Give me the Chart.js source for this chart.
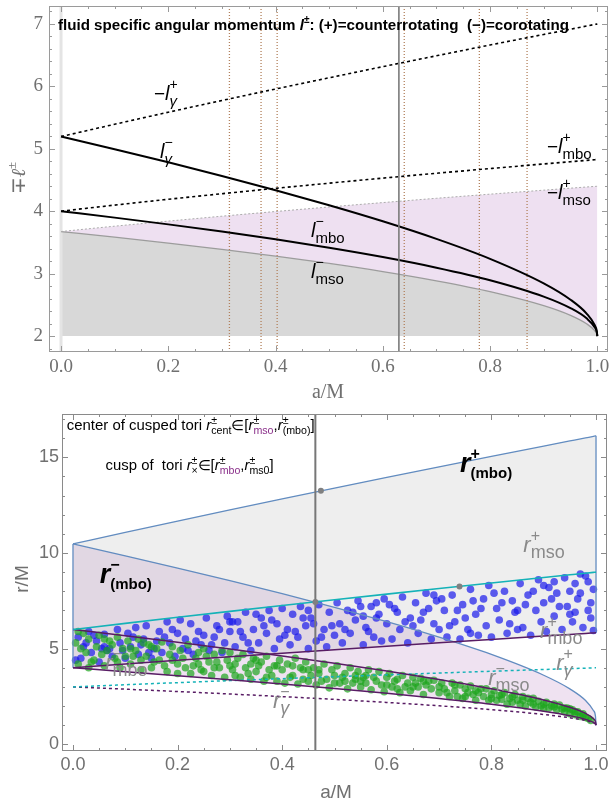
<!DOCTYPE html>
<html><head><meta charset="utf-8"><title>Kerr tori</title>
<script src="https://cdn.jsdelivr.net/npm/chart.js@4.4.1/dist/chart.umd.min.js"></script>
<style>
html,body{margin:0;padding:0;background:#fff;width:611px;height:800px;overflow:hidden}
canvas{position:absolute;left:0;display:block}
</style></head>
<body>
<canvas id="top" width="611" height="400" style="top:0;width:611px;height:400px"></canvas>
<canvas id="bot" width="611" height="400" style="top:400px;width:611px;height:400px"></canvas>
<script>
// ---------- data ----------
const aGrid = [0,0.1,0.2,0.3,0.4,0.5,0.6,0.7,0.8,0.9,0.95,0.98,0.995,0.999,1];
// top panel: fluid specific angular momentum
const lGammaCo      = [5.196,4.993,4.783,4.565,4.337,4.096,3.839,3.557,3.237,2.844,2.582,2.360,2.177,2.079,2.000];
const lGammaCounter = [5.196,5.393,5.586,5.774,5.958,6.138,6.316,6.490,6.663,6.832,6.916,6.967,6.992,6.998,7.000];
const lMboCo        = [4.000,3.897,3.789,3.673,3.549,3.414,3.265,3.095,2.894,2.632,2.447,2.283,2.141,2.063,2.000];
const lMboCounter   = [4.000,4.098,4.191,4.280,4.366,4.449,4.530,4.608,4.683,4.757,4.793,4.814,4.825,4.828,4.828];
const lMsoCo        = [3.674,3.585,3.490,3.389,3.280,3.163,3.033,2.885,2.712,2.487,2.331,2.196,2.087,2.033,2.000];
const lMsoCounter   = [3.674,3.760,3.841,3.920,3.995,4.068,4.138,4.207,4.273,4.337,4.369,4.388,4.397,4.399,4.400];
const specialSpins  = [0.314,0.373,0.403,0.640,0.780,0.869];
const markedSpinTop = [0.63];
const topXTicks = [0,0.2,0.4,0.6,0.8,1.0];
const topYTicks = [2,3,4,5,6,7];
// bottom panel: radii
const rMboCo        = [4.000,3.797,3.589,3.373,3.149,2.914,2.665,2.395,2.094,1.732,1.497,1.303,1.146,1.064,1.000];
const rMboCounter   = [4.000,4.198,4.391,4.580,4.766,4.949,5.130,5.308,5.483,5.657,5.743,5.794,5.820,5.827,5.828];
const rMsoCo        = [6.000,5.670,5.329,4.979,4.614,4.233,3.829,3.393,2.907,2.321,1.937,1.614,1.341,1.182,1.000];
const rMsoCounter   = [6.000,6.323,6.639,6.949,7.254,7.555,7.851,8.143,8.432,8.717,8.859,8.944,8.986,8.997,9.000];
const rGammaCo      = [3.000,2.882,2.759,2.630,2.493,2.347,2.189,2.013,1.811,1.558,1.386,1.240,1.118,1.053,1.000];
const rGammaCounter = [3.000,3.113,3.223,3.329,3.432,3.532,3.630,3.725,3.819,3.910,3.955,3.982,3.996,3.999,4.000];
const rOuterCo      = [10.472,9.851,9.215,8.559,7.876,7.164,6.412,5.601,4.696,3.610,2.897,2.290,1.770,1.455,1.000];
const rOuterCounter = [10.472,11.079,11.672,12.256,12.830,13.396,13.955,14.506,15.051,15.590,15.857,16.017,16.096,16.118,16.123];
const markedSpinBot = [0.4634];
const markA = [0.474,0.4634,0.739];
const markR = [13.25,7.44,8.25];
const botXTicks = [0,0.2,0.4,0.6,0.8,1.0];
const botYTicks = [0,5,10,15];
const bluePts = [
[0.01,5.6],[0.015,4.5],[0.02,5.1],[0.025,5.3],[0.03,5.9],[0.035,4.8],[0.045,5.4],[0.05,4.3],[0.06,5.75],[0.065,4.9],[0.07,5.0],[0.075,4.6],[0.085,6.0],[0.09,5.3],[0.1,4.5],[0.105,5.8],
[0.11,5.1],[0.115,5.6],[0.12,6.1],[0.125,4.7],[0.135,5.5],[0.14,6.2],[0.15,4.5],[0.155,5.0],[0.16,5.4],[0.165,5.9],[0.17,4.8],[0.18,6.4],[0.185,5.3],[0.195,4.6],[0.2,5.8],[0.205,6.5],
[0.21,5.0],[0.215,5.5],[0.225,6.3],[0.23,4.7],[0.235,5.4],[0.24,5.9],[0.245,5.2],[0.255,6.6],[0.26,4.9],[0.27,5.6],[0.275,6.2],[0.28,6.0],[0.285,4.8],[0.29,5.3],[0.295,6.7],[0.3,5.9],
[0.31,5.1],[0.315,6.4],[0.32,5.9],[0.325,5.6],[0.33,6.9],[0.34,4.9],[0.345,6.0],[0.355,5.3],[0.36,6.6],[0.365,6.2],[0.37,5.8],[0.375,7.0],[0.385,5.0],[0.39,6.3],[0.395,5.5],[0.4,7.1],
[0.405,5.7],[0.41,6.0],[0.415,5.2],[0.42,6.8],[0.43,5.6],[0.435,7.2],[0.445,6.2],[0.45,5.0],[0.455,6.6],[0.46,6.3],[0.465,5.4],[0.47,7.3],[0.48,6.0],[0.485,5.1],[0.49,6.9],[0.495,6.2],[0.5,5.7],[0.505,7.4],
[0.51,6.3],[0.515,5.3],[0.525,7.0],[0.53,5.8],[0.535,6.9],[0.54,6.5],[0.545,7.5],[0.555,5.2],[0.555,6.7],[0.56,6.1],[0.57,7.2],[0.575,5.6],[0.58,6.6],[0.585,6.8],[0.59,5.4],[0.595,7.6],[0.6,6.3],
[0.61,5.5],[0.615,7.1],[0.62,6.9],[0.625,6.0],[0.63,7.7],[0.64,5.3],[0.645,6.6],[0.65,6.2],[0.655,7.4],[0.66,5.8],[0.665,6.5],[0.67,6.9],[0.675,7.9],[0.685,5.5],[0.69,6.3],[0.695,7.5],[0.7,6.0],
[0.705,7.6],[0.71,7.0],[0.715,5.6],[0.725,7.8],[0.73,6.4],[0.735,7.0],[0.74,5.5],[0.745,7.3],[0.75,6.6],[0.755,6.0],[0.76,8.1],[0.765,7.5],[0.77,6.8],[0.775,5.7],[0.785,7.6],[0.79,6.2],[0.795,8.3],[0.8,5.6],
[0.805,7.9],[0.81,7.1],[0.815,6.5],[0.825,8.0],[0.83,5.8],[0.835,6.3],[0.84,7.5],[0.845,6.9],[0.85,7.0],[0.855,8.4],[0.86,6.1],[0.865,7.3],[0.87,7.8],[0.875,5.7],[0.88,8.0],[0.885,7.0],[0.89,8.6],[0.895,6.4],[0.9,7.4],
[0.905,5.9],[0.91,8.2],[0.915,7.6],[0.92,6.7],[0.925,7.9],[0.93,7.2],[0.935,6.0],[0.94,8.7],[0.945,7.2],[0.95,8.0],[0.955,6.4],[0.96,8.4],[0.96,6.9],[0.965,7.6],[0.97,8.9],[0.975,6.1],[0.98,8.8],[0.985,7.0],[0.99,6.6],[0.99,7.4],[0.995,8.1],
[0.005,4.4],[0.04,5.7],[0.055,5.0],[0.095,4.9],[0.13,5.2],[0.145,4.8],[0.175,5.6],[0.19,6.0],[0.22,4.9],[0.25,5.7],[0.265,5.2],[0.305,6.4],[0.335,5.3],[0.35,6.8],[0.38,6.5],[0.425,5.9],[0.44,6.6],[0.475,5.6],[0.52,6.0],[0.55,7.2],
[0.565,5.9],[0.605,7.3],[0.635,6.4],[0.68,7.1],[0.72,6.2],[0.78,7.1],[0.82,7.4],[0.85,6.0],[0.9,8.3],[0.92,8.5],[0.95,6.8],[0.97,7.9],[0.985,8.5],[0.995,5.95],[0.69,7.8],[0.58,7.4],[0.45,7.0],[0.3,6.4],[0.06,5.1],[0.76,5.8]
];
const greenPts = [
[0.005,5.3],[0.01,4.2],[0.015,5.0],[0.02,5.8],[0.025,4.8],[0.03,5.5],[0.04,4.4],[0.045,5.1],[0.05,5.7],[0.055,4.7],[0.06,4.1],[0.065,4.9],[0.07,5.4],[0.075,5.2],[0.08,4.5],[0.085,5.6],[0.09,4.0],[0.095,5.0],[0.1,4.6],
[0.105,5.4],[0.11,4.2],[0.115,4.6],[0.12,4.9],[0.125,5.5],[0.13,3.9],[0.135,5.3],[0.14,4.6],[0.145,5.2],[0.15,4.0],[0.16,5.0],[0.165,4.4],[0.17,5.35],[0.175,4.1],[0.18,3.8],[0.185,4.7],[0.19,5.1],[0.2,4.2],[0.2,3.7],
[0.205,4.9],[0.21,4.5],[0.215,4.0],[0.22,5.2],[0.225,3.7],[0.23,4.1],[0.24,4.8],[0.245,3.9],[0.25,5.0],[0.255,4.6],[0.26,4.3],[0.265,3.6],[0.27,4.7],[0.275,4.3],[0.28,4.0],[0.285,4.9],[0.29,3.5],[0.295,4.4],[0.3,4.8],
[0.305,3.9],[0.31,4.2],[0.315,4.5],[0.32,3.5],[0.325,4.7],[0.33,4.0],[0.335,3.7],[0.34,3.4],[0.345,4.5],[0.35,3.8],[0.355,4.1],[0.36,4.3],[0.365,3.3],[0.37,4.6],[0.375,3.9],[0.38,3.6],[0.385,4.1],[0.39,3.3],[0.395,4.4],[0.4,3.9],
[0.405,3.2],[0.41,4.2],[0.415,3.5],[0.42,3.6],[0.425,4.5],[0.43,3.15],[0.435,4.0],[0.44,3.9],[0.445,4.3],[0.45,3.3],[0.455,3.6],[0.46,4.0],[0.465,3.1],[0.47,3.7],[0.475,3.3],[0.48,4.2],[0.485,3.4],[0.49,2.95],[0.495,3.9],[0.5,3.6],
[0.505,4.1],[0.51,3.2],[0.515,3.5],[0.52,3.7],[0.525,2.9],[0.53,4.0],[0.535,3.2],[0.54,3.4],[0.545,3.8],[0.55,3.0],[0.555,3.5],[0.56,3.6],[0.565,3.9],[0.57,2.85],[0.575,3.5],[0.58,3.3],[0.585,3.8],[0.59,3.1],[0.595,2.75],[0.6,3.5],
[0.605,3.7],[0.61,3.0],[0.615,3.3],[0.62,3.4],[0.625,2.7],[0.63,3.6],[0.635,3.0],[0.64,3.2],[0.645,2.8],[0.65,3.5],[0.655,3.2],[0.66,3.0],[0.665,3.45],[0.67,2.6],[0.675,3.1],[0.68,3.3],[0.685,2.9],[0.69,3.35],[0.7,2.7],
[0.705,3.2],[0.71,2.9],[0.715,2.7],[0.72,2.5],[0.725,3.2],[0.73,2.8],[0.735,2.5],[0.74,3.1],[0.745,2.4],[0.75,2.9],[0.755,2.7],[0.76,3.05],[0.765,2.6],[0.77,2.3],[0.775,2.7],[0.78,2.9],[0.785,2.5],[0.79,2.9],[0.795,2.3],[0.8,2.6],
[0.805,2.8],[0.81,2.3],[0.815,2.55],[0.82,2.6],[0.825,2.7],[0.83,2.1],[0.835,2.4],[0.84,2.5],[0.845,2.6],[0.85,2.3],[0.855,2.1],[0.86,2.5],[0.865,2.0],[0.87,2.4],[0.875,2.2],[0.88,2.4],[0.885,1.95],[0.89,2.25],[0.895,2.0],[0.9,2.1],
[0.905,2.2],[0.91,1.9],[0.915,2.0],[0.92,2.1],[0.925,1.8],[0.93,2.05],[0.935,1.85],[0.94,1.7],[0.945,1.9],[0.95,1.6],[0.95,1.85],[0.955,1.8],[0.96,1.55],[0.965,1.7],[0.97,1.45],[0.975,1.6],[0.975,1.5],[0.98,1.4],[0.985,1.35],[0.99,1.25],
[0.01,5.9],[0.035,4.3],[0.06,5.5],[0.085,4.3],[0.11,5.0],[0.15,5.1],[0.155,4.3],[0.19,4.4],[0.235,4.5],[0.24,4.2],[0.27,4.0],[0.3,4.1],[0.31,3.6],[0.34,4.2],[0.37,3.5],[0.39,4.1],[0.42,4.1],[0.44,3.4],[0.47,3.9],[0.5,3.2],
[0.52,3.3],[0.54,3.6],[0.56,3.2],[0.6,3.1],[0.62,2.9],[0.65,3.0],[0.67,3.3],[0.7,3.0],[0.73,3.1],[0.75,2.5],[0.77,2.8],[0.8,2.4],[0.82,2.35],[0.84,2.2],[0.86,2.3],[0.88,2.1],[0.9,1.9],[0.92,1.95],[0.94,1.9],[0.96,1.7],
[0.03,4.0],[0.13,4.4],[0.25,3.8],[0.35,4.4],[0.45,3.9],[0.55,3.3]
];

// ---------- helpers ----------
const SANS = '"Liberation Sans", Arial, sans-serif';
const SERIF = '"Liberation Serif", "Times New Roman", serif';
const F = (st, sz, fam) => `${st} ${sz}px ${fam || SANS}`;
const P = (xs, ys) => xs.map((x, i) => ({x, y: ys[i]}));
const K = '#000', G = '#8a8a8a', PU = '#8a2f8a';

function richWidth(ctx, segs) {
  let w = 0;
  for (const s of segs) { ctx.font = s[1]; if (!s[4]) w += ctx.measureText(s[0]).width; }
  return w;
}
function rich(ctx, x, y, segs, fitW) {
  const w = richWidth(ctx, segs);
  ctx.save(); ctx.translate(x, y);
  if (fitW) ctx.scale(fitW / w, 1);
  ctx.textAlign = 'left'; ctx.textBaseline = 'alphabetic';
  let cx = 0;
  for (const s of segs) {
    ctx.font = s[1]; ctx.fillStyle = s[2];
    ctx.fillText(s[0], cx, s[3] || 0);
    if (!s[4]) cx += ctx.measureText(s[0]).width;
  }
  ctx.restore();
}

function decoPlugin(cfg) {
  return {
    id: 'deco',
    beforeDatasetsDraw(chart) {
      if (!cfg.zeroLine) return;
      const {ctx, chartArea: ca, scales: {x}} = chart;
      const px = x.getPixelForValue(0);
      ctx.save(); ctx.strokeStyle = '#e4e4e4'; ctx.lineWidth = 3;
      ctx.beginPath(); ctx.moveTo(px, ca.top + 1); ctx.lineTo(px, ca.bottom - 1); ctx.stroke(); ctx.restore();
    },
    afterDraw(chart) {
      const {ctx, chartArea: ca, scales: {x, y}} = chart;
      ctx.save();
      ctx.strokeStyle = cfg.frameColor; ctx.lineWidth = 1;
      ctx.strokeRect(Math.round(ca.left) + 0.5, Math.round(ca.top) + 0.5, Math.round(ca.right - ca.left) - 1, Math.round(ca.bottom - ca.top) - 1);
      ctx.beginPath();
      const xt = (v, len) => { const p = Math.round(x.getPixelForValue(v)) + 0.5; ctx.moveTo(p, ca.bottom); ctx.lineTo(p, ca.bottom - len); ctx.moveTo(p, ca.top); ctx.lineTo(p, ca.top + len); };
      const yt = (v, len) => { const p = Math.round(y.getPixelForValue(v)) + 0.5; ctx.moveTo(ca.left, p); ctx.lineTo(ca.left + len, p); ctx.moveTo(ca.right, p); ctx.lineTo(ca.right - len, p); };
      for (let k = Math.ceil(x.min / cfg.xMinor); k * cfg.xMinor <= x.max + 1e-9; k++) xt(k * cfg.xMinor, 3);
      for (let k = Math.ceil(y.min / cfg.yMinor); k * cfg.yMinor <= y.max + 1e-9; k++) yt(k * cfg.yMinor, 3);
      cfg.xTicks.forEach(v => xt(v, 6));
      cfg.yTicks.forEach(v => yt(v, 6));
      ctx.stroke();
      for (const L of cfg.labels) rich(ctx, x.getPixelForValue(L.a), y.getPixelForValue(L.v), L.segs, L.fit);
      cfg.titles(ctx);
      ctx.restore();
    }
  };
}

// ---------- top chart ----------
const TOP = {xMin: -0.0224, xMax: 1.0199, yMin: 1.744, yMax: 7.288};
const dotted = {borderColor: K, borderWidth: 1.6, borderDash: [3, 3], cubicInterpolationMode: 'monotone', order: 5};
const solid = {borderColor: K, borderWidth: 2, cubicInterpolationMode: 'monotone', order: 5};
const lSup = (t) => [t, F('', 14), K, -11, true];
const lSub = (t, it) => [t, F(it ? 'italic' : '', 15), K, 6];
const topLabels = [
  {a: 0.1734, v: 5.782, segs: [['−', F('', 19), K], ['l', F('italic', 20), K], lSup('+'), lSub('γ', true)]},
  {a: 0.1846, v: 4.853, segs: [['l', F('italic', 20), K], lSup('−'), lSub('γ', true)]},
  {a: 0.906, v: 4.933, segs: [['−', F('', 19), K], ['l', F('italic', 20), K], lSup('+'), lSub('mbo')]},
  {a: 0.906, v: 4.196, segs: [['−', F('', 19), K], ['l', F('italic', 20), K], lSup('+'), lSub('mso')]},
  {a: 0.4662, v: 3.587, segs: [['l', F('italic', 20), K], lSup('−'), lSub('mbo')]},
  {a: 0.4662, v: 2.929, segs: [['l', F('italic', 20), K], lSup('−'), lSub('mso')]},
  {a: -0.0058, v: 6.896, fit: 511, segs: [
    ['fluid specific angular momentum ', F('bold', 15), K],
    ['l', F('bold italic', 15), K], ['±', F('bold', 10), K, -7],
    [': (+)=counterrotating  (−)=corotating', F('bold', 15), K]]}
];
new Chart(document.getElementById('top'), {
  type: 'line',
  data: {datasets: [
    {data: P(aGrid, lMsoCo), borderColor: '#9c9c9c', borderWidth: 1.3, fill: {value: 2}, backgroundColor: '#d8d8d8', cubicInterpolationMode: 'monotone', order: 20},
    {data: P(aGrid, lMsoCounter), borderColor: '#ababab', borderWidth: 1, borderDash: [2, 2], fill: 0, backgroundColor: 'rgb(238,224,241)', cubicInterpolationMode: 'monotone', order: 19},
    Object.assign({data: P(aGrid, lGammaCounter)}, dotted),
    Object.assign({data: P(aGrid, lGammaCo)}, solid),
    Object.assign({data: P(aGrid, lMboCounter)}, dotted),
    Object.assign({data: P(aGrid, lMboCo)}, solid),
    ...specialSpins.map(a => ({data: P([a, a], [TOP.yMin, TOP.yMax]), borderColor: 'rgb(178,128,92)', borderWidth: 1.3, borderDash: [1, 2], order: 8})),
    ...markedSpinTop.map(a => ({data: P([a, a], [TOP.yMin, TOP.yMax]), borderColor: '#7a7a7a', borderWidth: 1.6, order: 1}))
  ]},
  options: {
    responsive: false, animation: false, devicePixelRatio: 1,
    layout: {padding: {left: 0, right: 3, top: 6, bottom: 0}},
    plugins: {legend: {display: false}, tooltip: {enabled: false}, filler: {propagate: false, drawTime: 'beforeDatasetsDraw'}},
    elements: {point: {radius: 0}},
    scales: {
      x: {type: 'linear', min: TOP.xMin, max: TOP.xMax, grid: {display: false, drawTicks: false}, border: {display: false},
        afterBuildTicks: s => { s.ticks = topXTicks.map(v => ({value: v})); },
        ticks: {callback: v => Number(v).toFixed(1), font: {family: SERIF, size: 19}, color: '#707070', padding: 4, maxRotation: 0, autoSkip: false},
        afterFit: s => { s.height = 48; s.paddingLeft = 0; s.paddingRight = 0; }},
      y: {type: 'linear', min: TOP.yMin, max: TOP.yMax, grid: {display: false, drawTicks: false}, border: {display: false},
        afterBuildTicks: s => { s.ticks = topYTicks.map(v => ({value: v})); },
        ticks: {callback: v => String(v), font: {family: SERIF, size: 19}, color: '#707070', padding: 6, autoSkip: false},
        afterFit: s => { s.width = 49; s.paddingTop = 0; s.paddingBottom = 0; }}
    }
  },
  plugins: [decoPlugin({
    zeroLine: true, frameColor: '#9a9a9a', xMinor: 0.05, yMinor: 0.2, xTicks: topXTicks, yTicks: topYTicks, labels: topLabels,
    titles: (ctx) => {
      ctx.fillStyle = '#707070'; ctx.font = F('', 20, SERIF); ctx.textAlign = 'center'; ctx.textBaseline = 'middle';
      ctx.fillText('a/M', 328, 393);
      const segs = [['∓', F('', 20, SERIF), '#707070'], ['ℓ', F('italic', 20, SERIF), '#707070'], ['±', F('', 13, SERIF), '#707070', -9]];
      ctx.save(); ctx.translate(18.5, 178); ctx.rotate(-Math.PI / 2);
      const w = richWidth(ctx, segs); rich(ctx, -w / 2, 6, segs); ctx.restore();
    }
  })]
});

// ---------- bottom chart ----------
const BOT = {xMin: -0.021, xMax: 1.021, yMin: -0.35, yMax: 17.266};
const gSup = (t) => [t, F('', 16), G, -11, true];
const gSub = (t) => [t, F('', 18), G, 6];
const bSup = (t) => [t, F('bold', 16), K, -13, true];
const bSub = (t) => [t, F('bold', 15), K, 6];
const tS = (t, c) => [t, F('', 10), c || K, -6, true];
const tB = (t, c) => [t, F('', 10), c || K, 4];
const T14 = (t) => [t, F('', 14), K];
const R14 = ['r', F('italic', 14), K];
const botLabels = [
  {a: 0.740, v: 14.23, segs: [['r', F('bold italic', 27), K], bSup('+'), bSub('(mbo)')]},
  {a: 0.051, v: 8.42, segs: [['r', F('bold italic', 27), K], bSup('−'), bSub('(mbo)')]},
  {a: 0.861, v: 10.05, segs: [['r', F('italic', 22), G], gSup('+'), gSub('mso')]},
  {a: 0.893, v: 5.55, segs: [['r', F('italic', 22), G], gSup('+'), gSub('mbo')]},
  {a: 0.924, v: 3.87, segs: [['r', F('italic', 22), G], gSup('+'), [ 'γ', F('italic', 18), G, 6]]},
  {a: 0.794, v: 3.09, segs: [['r', F('italic', 22), G], gSup('−'), gSub('mso')]},
  {a: 0.0615, v: 3.87, segs: [['r', F('italic', 22), G], gSup('−'), gSub('mbo')]},
  {a: 0.3825, v: 1.88, segs: [['r', F('italic', 22), G], gSup('−'), ['γ', F('italic', 18), G, 6]]},
  {a: -0.012, v: 16.43, fit: 248, segs: [T14('center of cusped tori '), R14, tS('±'), tB('cent'), T14('∈['), R14, tS('±'), tB('mso', PU), T14(','), R14, tS('±'), tB('(mbo)'), T14(']')]},
  {a: 0.0624, v: 14.34, fit: 168, segs: [T14('cusp of  tori '), R14, tS('±'), tB('×'), T14('∈['), R14, tS('±'), tB('mbo', PU), T14(','), R14, tS('±'), tB('ms0'), T14(']')]}
];
const edge = {borderColor: 'rgb(98,140,192)', borderWidth: 1.3, order: 6};
const mono = {cubicInterpolationMode: 'monotone'};
const PURL = 'rgb(88,28,100)', CYAN = 'rgb(20,178,184)';
new Chart(document.getElementById('bot'), {
  type: 'line',
  data: {datasets: [
    Object.assign({data: P(aGrid, rOuterCounter), fill: 2, backgroundColor: 'rgba(170,170,170,0.2)'}, edge, mono),
    Object.assign({data: P(aGrid, rOuterCo), fill: 3, backgroundColor: 'rgba(190,140,200,0.25)'}, edge, mono),
    Object.assign({data: P(aGrid, rMboCounter), borderColor: PURL, borderWidth: 1.5, order: 5}, mono),
    Object.assign({data: P(aGrid, rMboCo), borderColor: PURL, borderWidth: 1.5, order: 5}, mono),
    Object.assign({data: P(aGrid, rMsoCounter), borderColor: CYAN, borderWidth: 1.6, order: 5}, mono),
    Object.assign({data: P(aGrid, rMsoCo), borderColor: PURL, borderWidth: 1.5, order: 5}, mono),
    Object.assign({data: P(aGrid, rGammaCounter), borderColor: CYAN, borderWidth: 1.5, borderDash: [3, 3], order: 5}, mono),
    Object.assign({data: P(aGrid, rGammaCo), borderColor: PURL, borderWidth: 1.5, borderDash: [3, 3], order: 5}, mono),
    Object.assign({data: P([aGrid[0], aGrid[0]], [rMboCo[0], rOuterCo[0]])}, edge),
    Object.assign({data: P([aGrid[aGrid.length - 1], aGrid[aGrid.length - 1]], [rMboCounter[rMboCounter.length - 1], rOuterCounter[rOuterCounter.length - 1]])}, edge),
    {data: greenPts.map(p => ({x: p[0], y: p[1]})), showLine: false, pointRadius: 3.8, pointBorderWidth: 0, pointBackgroundColor: 'rgba(30,165,30,0.7)', order: 10},
    {data: bluePts.map(p => ({x: p[0], y: p[1]})), showLine: false, pointRadius: 3.8, pointBorderWidth: 0, pointBackgroundColor: 'rgba(25,25,235,0.7)', order: 10},
    ...markedSpinBot.map(a => ({data: P([a, a], [BOT.yMin, BOT.yMax]), borderColor: '#777', borderWidth: 2, order: 1})),
    {data: P(markA, markR), showLine: false, pointRadius: 3, pointBorderWidth: 0, pointBackgroundColor: '#808080', order: 0}
  ]},
  options: {
    responsive: false, animation: false, devicePixelRatio: 1,
    layout: {padding: {left: 0, right: 3, top: 14, bottom: 0}},
    plugins: {legend: {display: false}, tooltip: {enabled: false}, filler: {propagate: false, drawTime: 'beforeDatasetsDraw'}},
    elements: {point: {radius: 0}},
    scales: {
      x: {type: 'linear', min: BOT.xMin, max: BOT.xMax, grid: {display: false, drawTicks: false}, border: {display: false},
        afterBuildTicks: s => { s.ticks = botXTicks.map(v => ({value: v})); },
        ticks: {callback: v => Number(v).toFixed(1), font: {family: SANS, size: 18}, color: '#707070', padding: 3, maxRotation: 0, autoSkip: false},
        afterFit: s => { s.height = 49; s.paddingLeft = 0; s.paddingRight = 0; }},
      y: {type: 'linear', min: BOT.yMin, max: BOT.yMax, grid: {display: false, drawTicks: false}, border: {display: false},
        afterBuildTicks: s => { s.ticks = botYTicks.map(v => ({value: v})); },
        ticks: {callback: v => String(v), font: {family: SANS, size: 18}, color: '#707070', padding: 3, autoSkip: false},
        afterFit: s => { s.width = 62; s.paddingTop = 0; s.paddingBottom = 0; }}
    }
  },
  plugins: [decoPlugin({
    zeroLine: false, frameColor: '#8a8a8a', xMinor: 0.05, yMinor: 1, xTicks: botXTicks, yTicks: botYTicks, labels: botLabels,
    titles: (ctx) => {
      ctx.fillStyle = '#707070'; ctx.font = F('', 19); ctx.textAlign = 'center'; ctx.textBaseline = 'middle';
      ctx.fillText('a/M', 336, 393);
      ctx.save(); ctx.translate(23, 179); ctx.rotate(-Math.PI / 2); ctx.fillText('r/M', 0, 0); ctx.restore();
    }
  })]
});
</script>
</body></html>
